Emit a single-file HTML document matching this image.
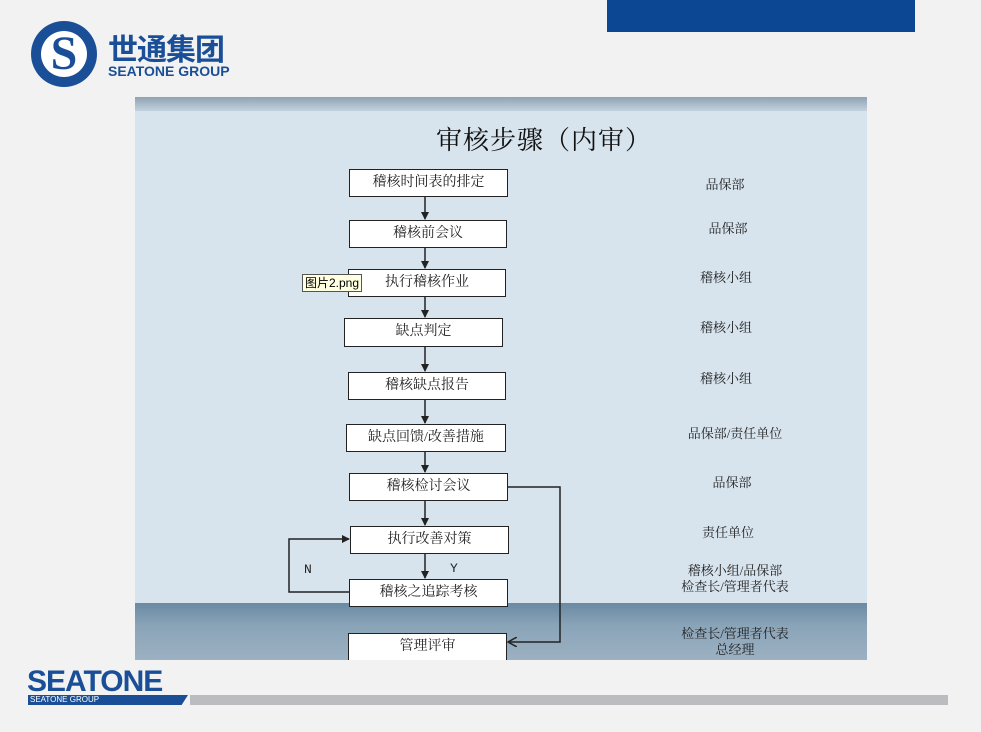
<!DOCTYPE html>
<html><head><meta charset="utf-8"><style>
body{margin:0;width:981px;height:732px;background:#f2f2f2;position:relative;overflow:hidden;font-family:"Liberation Serif","Noto Serif CJK SC",serif}
.a{position:absolute}
.box{position:absolute;background:#fff;border:1.5px solid #222;box-sizing:border-box;text-align:center;font-size:14px;color:#222;line-height:26px;font-family:"Liberation Serif","Noto Serif CJK SC",serif}
.lab{position:absolute;width:160px;text-align:center;font-size:13px;color:#222;line-height:16px;font-family:"Liberation Serif","Noto Serif CJK SC",serif}
</style></head><body>
<div class="a" style="left:607px;top:0;width:308px;height:32px;background:#0b4793"></div>
<div class="a" style="left:31px;top:21px;width:66px;height:66px;border-radius:50%;background:#1a4f97"></div>
<div class="a" style="left:41px;top:31px;width:46px;height:46px;border-radius:50%;background:#fff"></div>
<div class="a" style="left:44px;top:28px;width:40px;height:52px;font:bold 48px 'Liberation Serif',serif;color:#1a4f97;text-align:center;line-height:52px">S</div>
<div class="a" style="left:108px;top:30px;font:bold 30px 'Noto Sans CJK SC',sans-serif;color:#1a4f97;line-height:34px;letter-spacing:-1px">世通集团</div>
<div class="a" style="left:108px;top:63px;font:bold 14px 'Liberation Sans',sans-serif;color:#1a4f97">SEATONE GROUP</div>
<div class="a" style="left:135px;top:97px;width:732px;height:563px;background:#d7e4ee;overflow:hidden">
 <div class="a" style="left:0;top:0;width:732px;height:14px;background:linear-gradient(#8fa3b3,#c3d2de)"></div>
 <div class="a" style="left:0;top:506px;width:732px;height:57px;background:linear-gradient(#6a8aa3,#8aa4b8 40%,#9cb1c2)"></div>
</div>
<div class="a" style="left:436px;top:120px;font-size:26px;color:#111;font-family:'Noto Serif CJK SC',serif;letter-spacing:1px">审核步骤（内审）</div>
<svg class="a" style="left:0;top:0" width="981" height="732">
<defs><marker id="m" markerWidth="8" markerHeight="8" refX="7" refY="4" orient="auto" markerUnits="userSpaceOnUse"><path d="M0,0 L8,4 L0,8z" fill="#222"/></marker>
<marker id="o" markerWidth="10" markerHeight="10" refX="9" refY="5" orient="auto" markerUnits="userSpaceOnUse"><path d="M0,0 L9,5 L0,10" fill="none" stroke="#222" stroke-width="1.5"/></marker></defs>
<g stroke="#222" stroke-width="1.5" fill="none">
<line x1="425" y1="196" x2="425" y2="219" marker-end="url(#m)"/>
<line x1="425" y1="247" x2="425" y2="268" marker-end="url(#m)"/>
<line x1="425" y1="296" x2="425" y2="317" marker-end="url(#m)"/>
<line x1="425" y1="346" x2="425" y2="371" marker-end="url(#m)"/>
<line x1="425" y1="399" x2="425" y2="423" marker-end="url(#m)"/>
<line x1="425" y1="451" x2="425" y2="472" marker-end="url(#m)"/>
<line x1="425" y1="500" x2="425" y2="525" marker-end="url(#m)"/>
<line x1="425" y1="553" x2="425" y2="578" marker-end="url(#m)"/>
<polyline points="508,487 560,487 560,642 508,642" marker-end="url(#o)"/>
<polyline points="349,592 289,592 289,539 349,539" marker-end="url(#m)"/>
</g>
<text x="304" y="573" font-family="Liberation Mono" font-size="13" fill="#222">N</text>
<text x="450" y="572" font-family="Liberation Mono" font-size="13" fill="#222">Y</text>
</svg>
<div class="box" style="left:349px;top:169px;width:159px;height:28px">稽核时间表的排定</div>
<div class="box" style="left:349px;top:220px;width:158px;height:28px">稽核前会议</div>
<div class="box" style="left:348px;top:269px;width:158px;height:28px">执行稽核作业</div>
<div class="box" style="left:344px;top:318px;width:159px;height:29px">缺点判定</div>
<div class="box" style="left:348px;top:372px;width:158px;height:28px">稽核缺点报告</div>
<div class="box" style="left:346px;top:424px;width:160px;height:28px">缺点回馈/改善措施</div>
<div class="box" style="left:349px;top:473px;width:159px;height:28px">稽核检讨会议</div>
<div class="box" style="left:350px;top:526px;width:159px;height:28px">执行改善对策</div>
<div class="box" style="left:349px;top:579px;width:159px;height:28px">稽核之追踪考核</div>
<div class="box" style="left:348px;top:633px;width:159px;height:27px;border-bottom:none">管理评审</div>
<div class="a" style="left:302px;top:274px;background:#ffffe1;border:1px solid #555;font:12px 'Liberation Sans','Noto Sans CJK SC',sans-serif;padding:0 2px;line-height:16px">图片2.png</div>
<div class="lab" style="left:645px;top:177px">品保部</div>
<div class="lab" style="left:648px;top:221px">品保部</div>
<div class="lab" style="left:646px;top:270px">稽核小组</div>
<div class="lab" style="left:646px;top:320px">稽核小组</div>
<div class="lab" style="left:646px;top:371px">稽核小组</div>
<div class="lab" style="left:655px;top:426px">品保部/责任单位</div>
<div class="lab" style="left:652px;top:475px">品保部</div>
<div class="lab" style="left:648px;top:525px">责任单位</div>
<div class="lab" style="left:655px;top:563px">稽核小组/品保部<br>检查长/管理者代表</div>
<div class="lab" style="left:655px;top:626px">检查长/管理者代表<br>总经理</div>
<div class="a" style="left:190px;top:695px;width:758px;height:10px;background:#bbbcc0"></div>
<div class="a" style="left:27px;top:666px;font:bold 30px 'Liberation Sans',sans-serif;color:#1a4f97;letter-spacing:-1px;line-height:32px">SEATONE</div>
<div class="a" style="left:28px;top:695px;width:160px;height:10px;background:#1a4f97;clip-path:polygon(0 0,100% 0,96% 100%,0 100%)"></div>
<div class="a" style="left:30px;top:695px;font:8px 'Liberation Sans',sans-serif;color:#fff;line-height:10px">SEATONE GROUP</div>
</body></html>
